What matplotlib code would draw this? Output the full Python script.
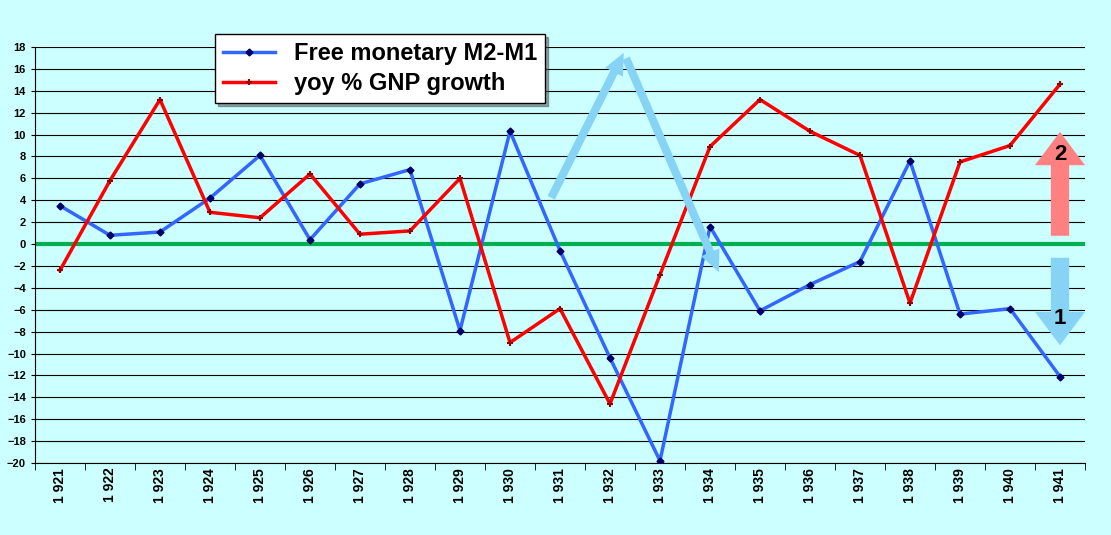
import matplotlib.pyplot as plt
import numpy as np

years = list(range(1921, 1942))
year_labels = ["1 " + str(y)[1:] for y in years]
money = [3.5, 0.8, 1.1, 4.2, 8.1, 0.4, 5.5, 6.8, -7.9, 10.3, -0.6,
         -10.4, -19.8, 1.6, -6.1, -3.7, -1.6, 7.6, -6.4, -5.9, -12.1]
gnp = [-2.4, 5.8, 13.2, 2.9, 2.4, 6.4, 0.9, 1.2, 6.0, -9.0, -5.9,
       -14.6, -2.8, 8.9, 13.2, 10.3, 8.1, -5.4, 7.5, 9.0, 14.6]

plt.rcParams['font.family'] = ['Liberation Sans', 'DejaVu Sans']
bg = "#CCFFFF"
fig = plt.figure(figsize=(11.11, 5.35), dpi=100, facecolor=bg)
ax = fig.add_axes([35 / 1111, 72 / 535, 1050 / 1111, 416 / 535])
ax.set_facecolor(bg)

x = np.arange(len(years))
ax.set_xlim(-0.5, len(years) - 0.5)
ax.set_ylim(-20, 18)
ax.set_yticks(range(-20, 19, 2))
ax.yaxis.grid(True, color="black", linewidth=0.8)
ax.set_axisbelow(True)
ax.tick_params(axis="y", labelsize=8, length=3)
for lab in ax.get_yticklabels():
    lab.set_fontweight("bold")
ax.set_xticks(x)
ax.set_xticklabels(year_labels, rotation=90, fontsize=10, fontweight="bold")
ax.set_xticks(np.arange(-0.5, len(years), 1), minor=True)
ax.tick_params(axis="x", which="major", length=0)
ax.tick_params(axis="x", which="minor", length=5)
for s in ["top", "right"]:
    ax.spines[s].set_visible(False)

ax.axhline(0, color="#00B050", linewidth=3, zorder=2)

ax.plot(x, money, color="#3366FF", linewidth=2.5, marker="D", markersize=3.5,
        markerfacecolor="#000066", markeredgecolor="#000066",
        label="Free monetary M2-M1", zorder=3)
ax.plot(x, gnp, color="#FF0000", linewidth=2.5, marker="+", markersize=5,
        markeredgecolor="#990000", markeredgewidth=1.5,
        label="yoy % GNP growth", zorder=3)

# annotation arrows
lb = "#87D3F5"
arrow_kw = dict(arrowstyle="simple,head_length=1.2,head_width=1.1,tail_width=0.45",
                mutation_scale=13, linewidth=0)
ax.annotate("", xy=(11.3, 17.7), xytext=(9.8, 4.0),
            arrowprops=dict(color=lb, **arrow_kw), zorder=4)
ax.annotate("", xy=(13.2, -2.8), xytext=(11.3, 17.2),
            arrowprops=dict(color=lb, **arrow_kw), zorder=4)
big_kw = dict(arrowstyle="simple,head_length=1.0,head_width=1.5,tail_width=0.55",
              mutation_scale=24, linewidth=0)
ax.annotate("", xy=(20, 10.5), xytext=(20, 0.5),
            arrowprops=dict(color="#FF8080", **big_kw), zorder=4)
ax.annotate("", xy=(20, -9.5), xytext=(20, -1.0),
            arrowprops=dict(color=lb, **big_kw), zorder=4)
ax.text(20, 8.2, "2", ha="center", va="center", fontsize=16, fontweight="bold", zorder=5)
ax.text(20, -6.8, "1", ha="center", va="center", fontsize=16, fontweight="bold", zorder=5)

leg = fig.legend(loc="upper left", bbox_to_anchor=(203 / 1111, 1 - 22 / 535),
                 prop={"weight": "bold", "size": 17},
                 frameon=True, fancybox=False, edgecolor="black", shadow=True,
                 borderpad=0.35, labelspacing=0.3, handlelength=2.2)
leg.get_frame().set_facecolor("white")
leg.get_frame().set_linewidth(1)

fig.savefig("out.png", dpi=100, facecolor=bg)
